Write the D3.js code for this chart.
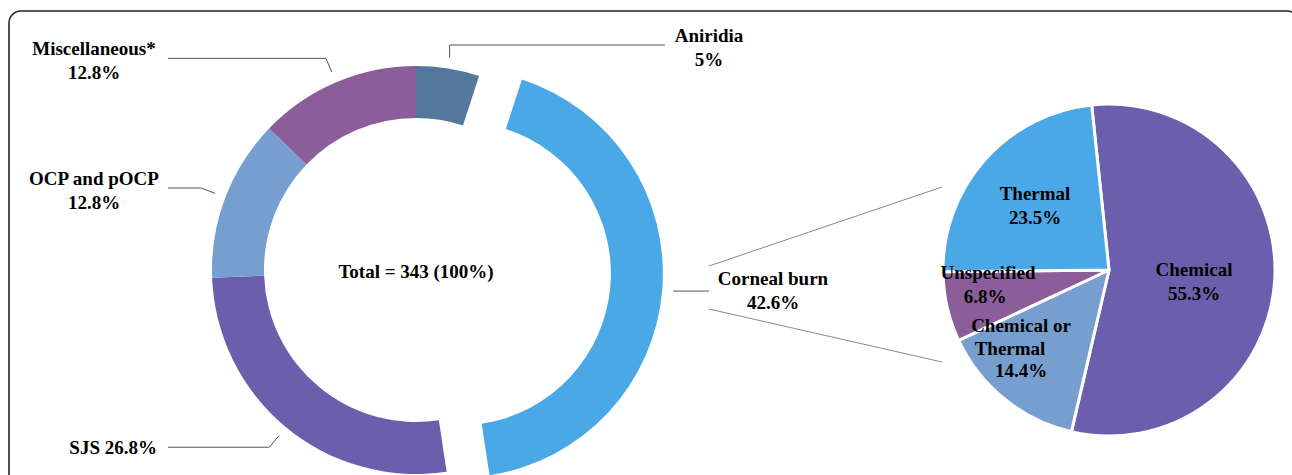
<!DOCTYPE html>
<html>
<head>
<meta charset="utf-8">
<script src="https://d3js.org/d3.v7.min.js"></script>
<style>
  body { margin: 0; background: #fff; }
</style>
</head>
<body>
<svg width="1292" height="475"></svg>
<script>
// donut: causes, clockwise from 12 o'clock
var causes = ["Aniridia", "Corneal burn", "SJS", "OCP and pOCP", "Miscellaneous*"];
var causePct = [5, 42.6, 26.8, 12.8, 12.8];
var causeLabels = [["Aniridia", "5%"], ["Corneal burn", "42.6%"], ["SJS 26.8%"], ["OCP and pOCP", "12.8%"], ["Miscellaneous*", "12.8%"]];
var causeColors = ["#54789d", "#4ba8e6", "#6b5fad", "#769ece", "#8b5e9a"];
var totalText = "Total = 343 (100%)";

// pie: corneal burn breakdown
var burnTypes = ["Chemical", "Chemical or Thermal", "Unspecified", "Thermal"];
var burnPct = [55.3, 14.4, 6.8, 23.5];
var burnLabels = [["Chemical", "55.3%"], ["Chemical or", "Thermal", "14.4%"], ["Unspecified", "6.8%"], ["Thermal", "23.5%"]];
var burnColors = ["#6b5fad", "#769ece", "#8b5e9a", "#4ba8e6"];

var svg = d3.select("svg")
    .attr("font-family", "'Liberation Serif', 'Times New Roman', serif")
    .attr("font-weight", "bold")
    .attr("font-size", 19);

// frame (bottom cut off)
svg.append("rect")
    .attr("x", 9).attr("y", 11)
    .attr("width", 1290).attr("height", 500)
    .attr("rx", 12)
    .attr("fill", "none")
    .attr("stroke", "#222")
    .attr("stroke-width", 1.6);

var cx = 416, cy = 270, rOut = 204, rIn = 152, explode = 43;

var pie = d3.pie().sort(null).value(function(d) { return d; });
var arcs = pie(causePct);
var arc = d3.arc().innerRadius(rIn).outerRadius(rOut);

function polar(a, r) { return [r * Math.sin(a), -r * Math.cos(a)]; }

var g = svg.append("g").attr("transform", "translate(" + cx + "," + cy + ")");

arcs.forEach(function(a, i) {
    var mid = (a.startAngle + a.endAngle) / 2;
    a.off = i === 1 ? polar(mid, explode) : [0, 0];
    a.mid = mid;
});

g.selectAll("path.slice")
    .data(arcs)
    .enter().append("path")
    .attr("class", "slice")
    .attr("d", arc)
    .attr("transform", function(d) { return "translate(" + d.off[0] + "," + d.off[1] + ")"; })
    .attr("fill", function(d, i) { return causeColors[i]; });

g.append("text")
    .attr("x", 0).attr("y", 8)
    .attr("text-anchor", "middle")
    .text(totalText);

// leader lines + labels
var lineColor = "#555";
var leftX = 168 - cx;
arcs.forEach(function(a, i) {
    var p0 = polar(a.mid, 215), p1, p2, pts, lx, ly, anchor;
    p0 = [p0[0] + a.off[0], p0[1] + a.off[1]];
    if (i === 0) {          // aniridia: up then right
        p1 = [p0[0], 45 - cy];
        p2 = [665 - cx, 45 - cy];
        pts = [p0, p1, p2];
        lx = 709 - cx; ly = 42 - cy; anchor = "middle";
    } else if (i === 1) {   // corneal burn: short horizontal
        p1 = [709 - cx, p0[1]];
        pts = [p0, p1];
        lx = 773 - cx; ly = 285 - cy; anchor = "middle";
    } else {
        p1 = polar(a.mid, 230);
        p2 = [leftX, p1[1]];
        pts = [p0, p1, p2];
        if (i === 2) { lx = 157 - cx; ly = p1[1] + 7; anchor = "end"; }
        else { lx = 94 - cx; ly = p1[1] - 3; anchor = "middle"; }
    }
    g.append("path")
        .attr("d", d3.line()(pts))
        .attr("fill", "none")
        .attr("stroke", lineColor)
        .attr("stroke-width", 1);
    var t = g.append("text").attr("text-anchor", anchor);
    causeLabels[i].forEach(function(s, k) {
        t.append("tspan").attr("x", lx).attr("y", ly + k * 24).text(s);
    });
});

// connector lines to the breakdown pie
var px = 1109, py = 270, pr = 166;
var conn = [[[709, 266], [942, 187]], [[709, 309], [942, 362]]];
conn.forEach(function(c) {
    svg.append("line")
        .attr("x1", c[0][0]).attr("y1", c[0][1])
        .attr("x2", c[1][0]).attr("y2", c[1][1])
        .attr("stroke", "#888").attr("stroke-width", 1);
});

var pie2 = d3.pie().sort(null).value(function(d) { return d; })
    .startAngle(-6 * Math.PI / 180).endAngle(354 * Math.PI / 180);
var arcs2 = pie2(burnPct);
var arc2 = d3.arc().innerRadius(0).outerRadius(pr);

var g2 = svg.append("g").attr("transform", "translate(" + px + "," + py + ")");
g2.selectAll("path")
    .data(arcs2)
    .enter().append("path")
    .attr("d", arc2)
    .attr("fill", function(d, i) { return burnColors[i]; })
    .attr("stroke", "#fff")
    .attr("stroke-width", 3)
    .attr("stroke-linejoin", "round");

// label block positions (x relative to pie centre, y absolute baseline)
var burnLabelPos = [[85, 276], [-88, 332], [-121, 279], [-74, 200]];
arcs2.forEach(function(a, i) {
    var t = g2.append("text").attr("text-anchor", "middle");
    burnLabels[i].forEach(function(s, k) {
        var dx = 0;
        if (i === 1) dx = [0, -11, 0][k];
        if (i === 2 && k === 1) dx = -3;
        t.append("tspan")
            .attr("x", burnLabelPos[i][0] + dx)
            .attr("y", burnLabelPos[i][1] - py + k * (i === 1 ? 22.5 : 23.5))
            .text(s);
    });
});
</script>
</body>
</html>
